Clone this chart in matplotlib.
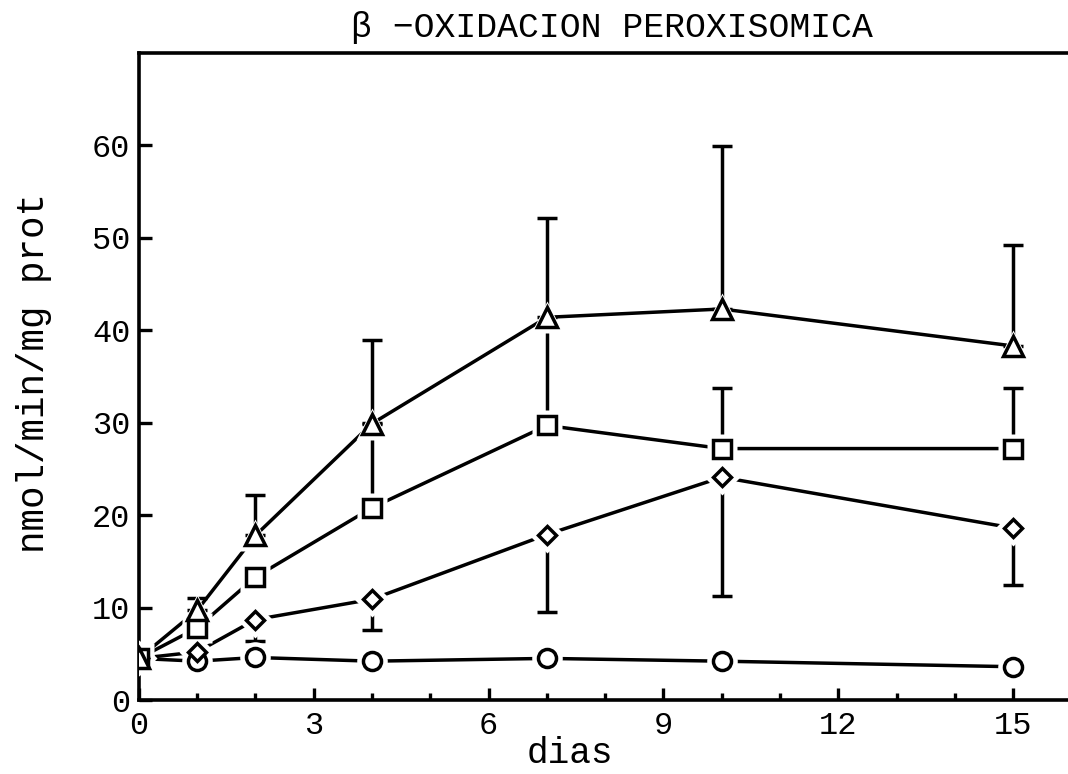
import numpy as np
import matplotlib
matplotlib.use("Agg")
import matplotlib.pyplot as plt

# --- datos ---
dias = [0, 1, 2, 4, 7, 10, 15]

control = [4.5, 4.2, 4.6, 4.2, 4.5, 4.2, 3.6]
rombo = [4.5, 5.2, 8.7, 10.9, 17.9, 24.1, 18.6]
cuadrado = [4.5, 7.8, 13.3, 20.8, 29.7, 27.2, 27.2]
triangulo = [4.5, 9.7, 17.8, 29.9, 41.4, 42.3, 38.3]

# errores (un solo lado)
rombo_err_inf = [0, 0, 2.3, 3.3, 8.4, 12.9, 6.2]
cuadrado_err_sup = [0, 0, 0, 9.2, 10.3, 6.5, 6.5]
triangulo_err_sup = [0, 1.3, 4.4, 9.0, 10.7, 17.6, 10.9]

series = [
    (control, "o", 13, None, None),
    (rombo, "D", 9.5, rombo_err_inf, "lower"),
    (cuadrado, "s", 12.5, cuadrado_err_sup, "upper"),
    (triangulo, "^", 14, triangulo_err_sup, "upper"),
]

plt.rcParams['font.family'] = ['Liberation Mono', 'DejaVu Sans']

fig = plt.figure(figsize=(10.68, 7.74), dpi=100)
ax = fig.add_axes([0.130, 0.0956, 0.870, 0.836])

lw = 2.5
for vals, mk, ms, err, side in series:
    x = np.array(dias)
    y = np.array(vals)
    if err is not None:
        e = np.array(err)
        m = e > 0
        if side == "upper":
            yerr = [np.zeros(m.sum()), e[m]]
        else:
            yerr = [e[m], np.zeros(m.sum())]
        ax.errorbar(x[m], y[m], yerr=yerr, fmt="none", ecolor="black",
                    elinewidth=lw, capsize=7.5, capthick=lw, zorder=2)
    ax.plot(x, y, color="black", lw=lw, zorder=1)
    # halo blanco para dejar hueco entre linea y simbolo
    ax.plot(x, y, ls="none", marker=mk, ms=ms + 9, mfc="white", mec="none", zorder=3)
    ax.plot(x, y, ls="none", marker=mk, ms=ms, mfc="white", mec="black",
            mew=lw, zorder=4)

ax.set_xlim(0, 15.94)
ax.set_ylim(0, 70)
ax.set_xticks([0, 3, 6, 9, 12, 15])
ax.set_xticks(range(0, 16), minor=True)
ax.set_yticks(range(0, 61, 10))

ax.tick_params(axis="both", which="major", direction="in", length=9, width=2.4,
               labelsize=23, pad=8)
ax.tick_params(axis="x", which="minor", direction="in", length=5, width=2.4)
ax.tick_params(axis="y", which="minor", left=False)
ax.tick_params(axis="y", pad=6)

for s in ["left", "top", "bottom"]:
    ax.spines[s].set_linewidth(2.6)
ax.spines["right"].set_visible(False)

ax.set_xlabel("dias", fontsize=26)
ax.xaxis.set_label_coords(0.464, -0.056)
ax.set_ylabel("nmol/min/mg prot", fontsize=27)
ax.yaxis.set_label_coords(-0.093, 0.505)

fig.text(0.573, 1 - 27 / 774, "β −OXIDACION PEROXISOMICA", fontsize=25,
         ha="center", va="center")

fig.savefig("out.png", dpi=100)
